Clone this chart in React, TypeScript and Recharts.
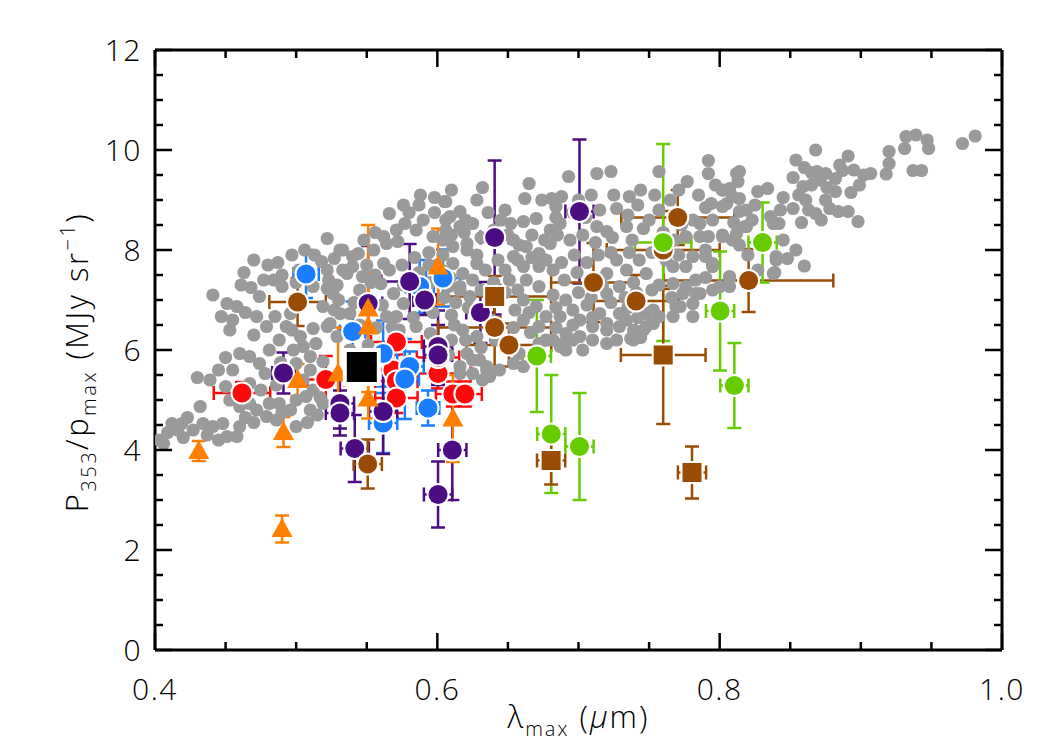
import React from "react";
import { ScatterChart, Scatter, XAxis, YAxis, ErrorBar, Label } from "recharts";

const FONT = "'Open Sans', 'Liberation Sans', 'DejaVu Sans', sans-serif";

// Axis ticks
const xTicks = [0.4, 0.45, 0.5, 0.55, 0.6, 0.65, 0.7, 0.75, 0.8, 0.85, 0.9, 0.95, 1.0];
const xMajorTicks = [0.4, 0.6, 0.8, 1.0];
const yTicks = [0, 0.5, 1, 1.5, 2, 2.5, 3, 3.5, 4, 4.5, 5, 5.5, 6, 6.5, 7, 7.5, 8, 8.5, 9, 9.5, 10, 10.5, 11, 11.5, 12];
const yMajorTicks = [0, 2, 4, 6, 8, 10, 12];

// Background sample: [lambda_max, P353/p_max]
const cloudPoints: [number, number][] = [
  [0.981, 10.28], [0.972, 10.13], [0.939, 10.3], [0.932, 10.27], [0.947, 10.2], [0.948, 10.03], [0.931, 10.03],
  [0.92, 9.97], [0.92, 9.73], [0.918, 9.52], [0.937, 9.59], [0.943, 9.59], [0.907, 9.53], [0.902, 9.5], [0.899, 9.3],
  [0.891, 9.88], [0.887, 9.59], [0.882, 9.43], [0.882, 9.17], [0.875, 9.53], [0.869, 9.57], [0.868, 10.0], [0.871, 9.4],
  [0.865, 9.3], [0.859, 9.27], [0.854, 9.8], [0.86, 9.65], [0.861, 9.0], [0.863, 8.8], [0.868, 8.73], [0.875, 9.0],
  [0.878, 8.83], [0.884, 8.77], [0.891, 8.77], [0.898, 8.57], [0.852, 8.83], [0.843, 8.8], [0.834, 9.23], [0.827, 9.17],
  [0.814, 9.57], [0.813, 9.37], [0.807, 9.23], [0.802, 9.2], [0.814, 9.03], [0.805, 8.93], [0.819, 8.8], [0.823, 8.6],
  [0.818, 8.47], [0.836, 8.67], [0.838, 8.53], [0.802, 8.27], [0.814, 8.1], [0.84, 7.87], [0.848, 7.83], [0.86, 7.68],
  [0.839, 7.55], [0.807, 7.43],
  [0.792, 9.79], [0.792, 9.53], [0.812, 9.53], [0.777, 9.37], [0.757, 9.57], [0.744, 9.2], [0.736, 9.07], [0.727, 8.83],
  [0.723, 9.57], [0.713, 9.53], [0.693, 9.47], [0.709, 9.1], [0.665, 9.33], [0.662, 9.03], [0.674, 9.0], [0.681, 9.03],
  [0.688, 9.07], [0.684, 8.87], [0.628, 9.0], [0.606, 8.97], [0.616, 8.77], [0.648, 8.8], [0.652, 8.53], [0.661, 8.57],
  [0.67, 8.63], [0.68, 8.4], [0.687, 8.53], [0.713, 8.47], [0.72, 8.37], [0.734, 8.47], [0.746, 8.43], [0.786, 8.53],
  [0.795, 8.6], [0.802, 8.87], [0.802, 9.2], [0.809, 9.07], [0.792, 8.27], [0.802, 8.3], [0.809, 8.2], [0.781, 7.87],
  [0.79, 7.87], [0.795, 7.67], [0.776, 7.67], [0.767, 7.67], [0.743, 7.8], [0.748, 7.53], [0.734, 7.6], [0.727, 7.8],
  [0.72, 7.53], [0.729, 7.27], [0.72, 7.13], [0.767, 7.33], [0.776, 7.27], [0.786, 7.13], [0.781, 6.93], [0.772, 6.87],
  [0.781, 6.67], [0.767, 6.67], [0.757, 6.67], [0.753, 6.8], [0.748, 6.47], [0.739, 6.4], [0.729, 6.47], [0.72, 6.53],
  [0.715, 6.73], [0.727, 6.2], [0.72, 6.13], [0.71, 6.2], [0.701, 6.27], [0.691, 6.33], [0.701, 6.6], [0.696, 6.8],
  [0.691, 7.0], [0.687, 6.67], [0.703, 6.0], [0.691, 6.0], [0.682, 6.2], [0.739, 6.2], [0.8, 7.27], [0.807, 7.27],
  [0.609, 8.67], [0.606, 8.4], [0.616, 8.47], [0.625, 8.53], [0.611, 8.07], [0.621, 8.13], [0.628, 7.9], [0.611, 7.73],
  [0.618, 7.53], [0.625, 7.4], [0.616, 7.2], [0.608, 7.27], [0.654, 8.2], [0.654, 7.87], [0.663, 8.07], [0.672, 7.93],
  [0.68, 8.13], [0.661, 7.67], [0.672, 7.67], [0.682, 7.6], [0.651, 7.4], [0.663, 7.4], [0.672, 7.27], [0.661, 7.0],
  [0.67, 6.87], [0.661, 6.6], [0.677, 6.67], [0.672, 6.47], [0.677, 6.2], [0.621, 5.93], [0.625, 5.8], [0.616, 5.67],
  [0.635, 5.6], [0.625, 5.53], [0.632, 5.4], [0.661, 5.67], [0.687, 6.07], [0.672, 6.13], [0.696, 6.2], [0.71, 6.47],
  [0.729, 6.73],
  [0.605, 8.97], [0.566, 8.73], [0.577, 8.53], [0.585, 8.4], [0.597, 8.27], [0.606, 8.6], [0.562, 8.27], [0.572, 8.17],
  [0.555, 8.0], [0.544, 7.93], [0.533, 8.0], [0.522, 8.23], [0.527, 7.83], [0.518, 7.77], [0.522, 7.6], [0.536, 7.53],
  [0.54, 7.67], [0.562, 7.73], [0.566, 7.6], [0.56, 7.33], [0.569, 7.13], [0.576, 6.93], [0.571, 6.67], [0.529, 7.3],
  [0.522, 7.23], [0.512, 7.27], [0.53, 7.0], [0.527, 6.8], [0.519, 6.87], [0.524, 6.53], [0.529, 6.27], [0.512, 6.43],
  [0.503, 6.27], [0.505, 6.07], [0.514, 6.13], [0.51, 5.87], [0.519, 5.77], [0.493, 6.47], [0.496, 6.73], [0.48, 7.7],
  [0.477, 7.4], [0.484, 7.4], [0.49, 7.5], [0.49, 7.27], [0.461, 7.3], [0.474, 7.07], [0.472, 6.67], [0.479, 6.47],
  [0.485, 6.67], [0.441, 7.1], [0.451, 6.93], [0.458, 6.87], [0.447, 6.67], [0.455, 6.6], [0.453, 6.4], [0.46, 5.93],
  [0.467, 5.87], [0.474, 5.73], [0.478, 5.53], [0.498, 6.0], [0.5, 5.73], [0.51, 5.6], [0.439, 5.4], [0.45, 5.27],
  [0.467, 5.33], [0.453, 5.0], [0.46, 4.87], [0.467, 4.93], [0.472, 4.8], [0.481, 4.93], [0.488, 4.93], [0.479, 4.67],
  [0.496, 4.8], [0.5, 5.0], [0.507, 5.07], [0.51, 4.8], [0.5, 4.47], [0.432, 4.87], [0.419, 4.53], [0.427, 4.4],
  [0.434, 4.53], [0.441, 4.47], [0.448, 4.53], [0.451, 4.27], [0.458, 4.27], [0.46, 4.47], [0.406, 4.13], [0.412, 4.53],
  [0.403, 4.2], [0.538, 6.0], [0.538, 6.73], [0.547, 7.47], [0.519, 4.93],
  [0.621, 8.0], [0.628, 7.73], [0.616, 7.27], [0.623, 7.07], [0.618, 6.4], [0.628, 6.27], [0.63, 5.8], [0.635, 5.67],
  [0.616, 5.53], [0.573, 6.4], [0.585, 6.47], [0.595, 6.33], [0.564, 8.13], [0.571, 8.4], [0.531, 8.0], [0.54, 7.87],
  [0.533, 7.6], [0.523, 7.4], [0.526, 7.13], [0.531, 6.73], [0.522, 6.47], [0.564, 6.67],
  [0.689, 6.13], [0.72, 6.4], [0.737, 6.23], [0.654, 5.73], [0.644, 5.6], [0.637, 5.47], [0.658, 5.93],
  [0.794, 8.93], [0.814, 8.77], [0.819, 8.47], [0.812, 8.33], [0.786, 8.27], [0.842, 8.53], [0.854, 8.0],
  [0.838, 7.53], [0.84, 7.8], [0.807, 7.47], [0.795, 7.73], [0.783, 7.4], [0.774, 7.13], [0.783, 7.13], [0.769, 6.87],
  [0.748, 6.73], [0.753, 6.53], [0.746, 6.4], [0.781, 8.6], [0.776, 8.27],
  // denser core of the band
  [0.65, 8.3], [0.658, 8.1], [0.667, 8.3], [0.676, 8.2], [0.685, 8.3], [0.694, 8.2], [0.703, 8.3], [0.712, 8.15],
  [0.724, 8.25], [0.738, 8.2], [0.648, 7.6], [0.657, 7.8], [0.667, 7.85], [0.677, 7.8], [0.688, 7.75], [0.697, 7.9],
  [0.706, 7.75], [0.714, 7.9], [0.723, 7.95], [0.736, 7.95], [0.69, 7.4], [0.699, 7.55], [0.708, 7.4], [0.717, 7.3],
  [0.739, 7.35], [0.648, 7.15], [0.657, 7.2], [0.682, 7.1], [0.7, 7.15], [0.709, 7.05], [0.733, 7.05], [0.741, 7.15],
  [0.655, 6.8], [0.665, 6.75], [0.684, 6.85], [0.706, 6.9], [0.723, 6.95], [0.735, 6.85], [0.742, 6.65], [0.654, 6.45],
  [0.666, 6.35], [0.684, 6.45], [0.696, 6.5], [0.71, 6.65], [0.734, 6.6], [0.744, 6.25], [0.684, 8.65], [0.696, 8.75],
  [0.705, 8.65], [0.715, 8.8], [0.735, 8.7], [0.742, 8.9], [0.725, 9.1], [0.7, 9.0],
  [0.604, 8.2], [0.61, 8.3], [0.619, 8.35], [0.631, 8.25], [0.64, 8.4], [0.645, 8.6], [0.636, 8.75], [0.62, 8.6],
  [0.604, 7.9], [0.634, 7.6], [0.643, 7.8], [0.603, 7.6], [0.609, 7.45], [0.631, 7.2], [0.64, 7.35], [0.605, 7.05],
  [0.613, 6.95], [0.622, 6.85], [0.638, 6.6], [0.61, 6.7], [0.612, 6.5], [0.62, 6.2], [0.631, 6.05], [0.641, 6.2],
  [0.61, 6.2], [0.608, 5.9],
  [0.548, 8.2], [0.556, 8.35], [0.58, 8.75], [0.59, 8.6], [0.598, 8.75], [0.587, 8.9], [0.576, 8.9], [0.55, 7.7],
  [0.556, 7.5], [0.575, 7.7], [0.584, 7.85], [0.594, 7.95], [0.6, 7.7], [0.587, 7.55], [0.594, 7.7], [0.545, 7.2],
  [0.553, 7.35], [0.576, 7.3], [0.595, 7.35], [0.541, 6.95], [0.561, 6.9], [0.568, 6.45], [0.583, 6.65], [0.597, 6.75],
  [0.545, 6.5], [0.557, 6.45], [0.551, 6.1], [0.588, 9.1], [0.61, 9.2], [0.598, 9.05], [0.632, 9.25],
  [0.75, 8.6], [0.757, 8.8], [0.765, 9.0], [0.754, 9.1], [0.771, 9.2], [0.785, 9.1], [0.79, 8.85], [0.797, 9.3],
  [0.76, 8.35], [0.768, 8.2], [0.773, 8.5], [0.79, 8.0], [0.81, 8.55], [0.825, 8.9], [0.83, 8.2], [0.845, 8.2],
  [0.82, 7.9], [0.827, 7.6], [0.752, 7.95], [0.762, 7.8], [0.771, 7.9], [0.757, 7.3], [0.766, 7.05], [0.79, 7.45],
  [0.795, 7.2], [0.752, 7.2], [0.845, 9.05], [0.856, 9.1], [0.852, 9.45], [0.865, 9.55], [0.876, 9.25], [0.858, 8.55],
  [0.872, 8.6], [0.893, 9.15], [0.885, 9.7], [0.895, 9.6],
  [0.463, 7.55], [0.47, 7.8], [0.487, 7.75], [0.497, 7.9], [0.506, 8.0], [0.513, 7.9], [0.502, 7.6], [0.468, 7.25],
  [0.5, 7.35], [0.464, 6.75], [0.47, 6.3], [0.488, 6.2], [0.497, 6.4], [0.481, 6.0], [0.489, 5.75], [0.486, 5.3],
  [0.495, 5.5], [0.505, 5.4], [0.512, 5.2], [0.517, 5.05], [0.475, 5.2], [0.462, 5.1], [0.455, 5.6], [0.445, 5.6],
  [0.43, 5.45], [0.45, 5.85],
  [0.416, 4.4], [0.423, 4.65], [0.437, 4.3], [0.445, 4.2], [0.464, 4.65], [0.47, 4.55], [0.486, 4.6], [0.49, 4.75],
  [0.508, 4.55], [0.515, 4.7], [0.42, 4.25], [0.409, 4.35],
];

// Measured regions: [lambda_max, P353/p_max, error in lambda, error in ratio]
const redPoints: [number, number, number, number][] = [
  [0.4616, 5.14, 0.02, 0.22], [0.521, 5.41, 0.013, 0.47], [0.571, 6.16, 0.018, 0.25], [0.5685, 5.6, 0.015, 0.3],
  [0.571, 5.38, 0.015, 0.3], [0.571, 5.04, 0.015, 0.3], [0.6005, 5.53, 0.023, 0.3], [0.6005, 5.85, 0.015, 0.3],
  [0.611, 5.12, 0.012, 0.25], [0.6195, 5.12, 0.012, 0.25],
];
const bluePoints: [number, number, number, number][] = [
  [0.507, 7.52, 0.009, 0.48], [0.54, 6.37, 0.009, 0.6], [0.5616, 5.93, 0.01, 0.66], [0.5804, 5.67, 0.01, 0.3],
  [0.577, 5.42, 0.01, 0.8], [0.5934, 4.84, 0.008, 0.35], [0.5616, 4.54, 0.01, 0.6], [0.604, 7.44, 0.012, 0.57],
  [0.5875, 7.27, 0.01, 0.53],
];
const purplePoints: [number, number, number, number][] = [
  [0.491, 5.54, 0.008, 0.41], [0.531, 4.93, 0.01, 0.5], [0.531, 4.74, 0.01, 0.45], [0.5415, 4.03, 0.01, 0.67],
  [0.551, 6.93, 0.01, 1.15], [0.5616, 4.77, 0.01, 0.85], [0.5804, 7.37, 0.02, 0.75], [0.591, 7.0, 0.008, 0.3],
  [0.6005, 6.07, 0.01, 0.72], [0.6005, 5.9, 0.01, 0.6], [0.6005, 3.11, 0.01, 0.66], [0.6106, 4.0, 0.01, 1.0],
  [0.6305, 6.75, 0.01, 0.61], [0.6406, 8.25, 0.01, 1.54], [0.7007, 8.77, 0.01, 1.44],
];
const brownCircles: [number, number, number, number][] = [
  [0.501, 6.96, 0.02, 0.48], [0.5507, 3.72, 0.01, 0.49], [0.6406, 6.45, 0.04, 0.85], [0.6507, 6.1, 0.03, 0.43],
  [0.7106, 7.35, 0.03, 0.79], [0.7408, 6.98, 0.03, 0.52], [0.76, 8.0, 0.04, 0.78], [0.7703, 8.65, 0.04, 0.55],
  [0.8205, 7.39, 0.06, 0.63],
];
const brownSquares: [number, number, number, number][] = [
  [0.6406, 7.07, 0.04, 0.41], [0.6806, 3.79, 0.01, 0.48], [0.76, 5.9, 0.03, 1.38], [0.7804, 3.55, 0.01, 0.52],
];
const greenPoints: [number, number, number, number][] = [
  [0.6705, 5.88, 0.01, 1.12], [0.6807, 4.32, 0.01, 1.18], [0.7007, 4.07, 0.01, 1.07], [0.76, 8.15, 0.02, 1.97],
  [0.8003, 6.78, 0.01, 1.19], [0.8104, 5.29, 0.01, 0.85], [0.8304, 8.15, 0.01, 0.8],
];
// [lambda_max, P353/p_max, error in ratio]
const orangePoints: [number, number, number][] = [
  [0.431, 3.98, 0.2], [0.49, 2.42, 0.27], [0.491, 4.36, 0.3], [0.501, 5.4, 0.32], [0.5297, 5.53, 0.92],
  [0.551, 6.83, 1.67], [0.551, 6.47, 0.93], [0.551, 5.03, 0.4], [0.6005, 7.67, 0.76], [0.611, 4.63, 0.87],
];
const meanPoint: [number, number][] = [[0.5465, 5.66]];

const COLORS = {
  gray: "#9a9a9a",
  red: "#ff0a0a",
  blue: "#1a7dff",
  purple: "#4c0c82",
  brown: "#9a4c05",
  green: "#66cc00",
  orange: "#ff8000",
};

const toRows = (arr: [number, number, number, number][]) => arr.map(([x, y, ex, ey]) => ({ x, y, ex, ey }));
const cloudData = cloudPoints.map(([x, y]) => ({ x, y }));
const orangeData = orangePoints.map(([x, y, ey]) => ({ x, y, ey }));
const meanData = meanPoint.map(([x, y]) => ({ x, y }));

const isMajor = (v: number, majors: number[]) => majors.some((m) => Math.abs(m - v) < 1e-6);

const TICK_W = 2.5;
const MAJOR_LEN = 17;
const MINOR_LEN = 8;
const LABEL_SIZE = 30;

const BottomTick = (p: any) => {
  const v = p.payload.value;
  const major = isMajor(v, xMajorTicks);
  return (
    <g>
      <line x1={p.x} x2={p.x} y1={p.y} y2={p.y - (major ? MAJOR_LEN : MINOR_LEN)} stroke="#000" strokeWidth={TICK_W} />
      {major && (
        <text x={p.x} y={p.y + 50} textAnchor="middle" fontSize={LABEL_SIZE} fontWeight={300} fontFamily={FONT} fill="#000" letterSpacing={1.5}>
          {v.toFixed(1)}
        </text>
      )}
    </g>
  );
};

const TopTick = (p: any) => {
  const major = isMajor(p.payload.value, xMajorTicks);
  return <line x1={p.x} x2={p.x} y1={p.y} y2={p.y + (major ? MAJOR_LEN : MINOR_LEN)} stroke="#000" strokeWidth={TICK_W} />;
};

const LeftTick = (p: any) => {
  const v = p.payload.value;
  const major = isMajor(v, yMajorTicks);
  return (
    <g>
      <line x1={p.x} x2={p.x + (major ? MAJOR_LEN : MINOR_LEN)} y1={p.y} y2={p.y} stroke="#000" strokeWidth={TICK_W} />
      {major && (
        <text x={p.x - 13} y={p.y + 11} textAnchor="end" fontSize={LABEL_SIZE} fontWeight={300} fontFamily={FONT} fill="#000" letterSpacing={1.5}>
          {String(v)}
        </text>
      )}
    </g>
  );
};

const RightTick = (p: any) => {
  const major = isMajor(p.payload.value, yMajorTicks);
  return <line x1={p.x} x2={p.x - (major ? MAJOR_LEN : MINOR_LEN)} y1={p.y} y2={p.y} stroke="#000" strokeWidth={TICK_W} />;
};

const XTitle = (props: any) => {
  const vb = props.viewBox || { x: 147, y: 642, width: 847 };
  return (
    <text x={vb.x + vb.width / 2} y={vb.y + 78} textAnchor="middle" fontSize={31} fontWeight={300} fontFamily={FONT} fill="#000" letterSpacing={2}>
      λ<tspan fontSize={20} dy={8}>max</tspan>
      <tspan dy={-8}>{"  ("}</tspan>
      <tspan fontStyle="italic">μ</tspan>
      <tspan>m)</tspan>
    </text>
  );
};

const YTitle = (props: any) => {
  const vb = props.viewBox || { y: 42, height: 600 };
  const cy = vb.y + vb.height / 2 + 12;
  return (
    <text transform={`translate(80,${cy}) rotate(-90)`} textAnchor="middle" fontSize={31} fontWeight={300} fontFamily={FONT} fill="#000" letterSpacing={2.5}>
      P<tspan fontSize={20} dy={8}>353</tspan>
      <tspan dy={-8}>/p</tspan>
      <tspan fontSize={20} dy={8}>max</tspan>
      <tspan dy={-8}>{"  (MJy sr"}</tspan>
      <tspan fontSize={20} dy={-13}>−1</tspan>
      <tspan dy={13}>)</tspan>
    </text>
  );
};

const grayDot = (p: any) => <circle cx={p.cx} cy={p.cy} r={6.6} fill={COLORS.gray} />;
const nothing = () => <g />;

const haloCircle = (fill: string) => (p: any) => (
  <g>
    <circle cx={p.cx} cy={p.cy} r={11.5} fill="#fff" />
    <circle cx={p.cx} cy={p.cy} r={9.5} fill={fill} />
  </g>
);

const haloSquare = (fill: string) => (p: any) => (
  <g>
    <rect x={p.cx - 11.5} y={p.cy - 11.5} width={23} height={23} fill="#fff" />
    <rect x={p.cx - 9.5} y={p.cy - 9.5} width={19} height={19} fill={fill} />
  </g>
);

const triangle = (fill: string) => (p: any) => (
  <polygon points={`${p.cx},${p.cy - 11} ${p.cx - 10.5},${p.cy + 8} ${p.cx + 10.5},${p.cy + 8}`} fill={fill} />
);

const meanSquare = (p: any) => (
  <g>
    <rect x={p.cx - 19} y={p.cy - 19} width={38} height={38} fill="#fff" />
    <rect x={p.cx - 15} y={p.cy - 15} width={30} height={30} fill="#000" />
  </g>
);

const bars = (color: string, withX = true) => {
  const out = [<ErrorBar key="ey" dataKey="ey" direction="y" width={7} stroke={color} strokeWidth={2.5} />];
  if (withX) out.push(<ErrorBar key="ex" dataKey="ex" direction="x" width={7} stroke={color} strokeWidth={2.5} />);
  return out;
};

export default function App() {
  return (
    <div style={{ width: 1042, height: 742 }}>
      <ScatterChart width={1042} height={742} margin={{ top: 41, right: 47, bottom: 60, left: 87 }}>
        <XAxis
          type="number"
          dataKey="x"
          domain={[0.4, 1.0]}
          ticks={xTicks}
          interval={0}
          allowDataOverflow
          height={40}
          tickSize={0}
          tickMargin={0}
          tickLine={false}
          axisLine={{ stroke: "#000", strokeWidth: 3 }}
          tick={(p: any) => <BottomTick {...p} />}
        >
          <Label content={XTitle} />
        </XAxis>
        <XAxis
          xAxisId="top"
          orientation="top"
          type="number"
          dataKey="x"
          domain={[0.4, 1.0]}
          ticks={xTicks}
          interval={0}
          allowDataOverflow
          height={1}
          tickSize={0}
          tickMargin={0}
          tickLine={false}
          axisLine={{ stroke: "#000", strokeWidth: 3 }}
          tick={(p: any) => <TopTick {...p} />}
        />
        <YAxis
          type="number"
          dataKey="y"
          domain={[0, 12]}
          ticks={yTicks}
          interval={0}
          allowDataOverflow
          width={60}
          tickSize={0}
          tickMargin={0}
          tickLine={false}
          axisLine={{ stroke: "#000", strokeWidth: 3 }}
          tick={(p: any) => <LeftTick {...p} />}
        >
          <Label content={YTitle} />
        </YAxis>
        <YAxis
          yAxisId="right"
          orientation="right"
          type="number"
          dataKey="y"
          domain={[0, 12]}
          ticks={yTicks}
          interval={0}
          allowDataOverflow
          width={1}
          tickSize={0}
          tickMargin={0}
          tickLine={false}
          axisLine={{ stroke: "#000", strokeWidth: 3 }}
          tick={(p: any) => <RightTick {...p} />}
        />

        {/* carries the top and right frame axes */}
        <Scatter xAxisId="top" yAxisId="right" data={meanData} shape={nothing} isAnimationActive={false} />

        <Scatter data={cloudData} shape={grayDot} isAnimationActive={false} />
        <Scatter data={toRows(redPoints)} shape={haloCircle(COLORS.red)} isAnimationActive={false}>
          {bars(COLORS.red)}
        </Scatter>
        <Scatter data={toRows(bluePoints)} shape={haloCircle(COLORS.blue)} isAnimationActive={false}>
          {bars(COLORS.blue)}
        </Scatter>
        <Scatter data={toRows(purplePoints)} shape={haloCircle(COLORS.purple)} isAnimationActive={false}>
          {bars(COLORS.purple)}
        </Scatter>
        <Scatter data={toRows(brownCircles)} shape={haloCircle(COLORS.brown)} isAnimationActive={false}>
          {bars(COLORS.brown)}
        </Scatter>
        <Scatter data={toRows(greenPoints)} shape={haloCircle(COLORS.green)} isAnimationActive={false}>
          {bars(COLORS.green)}
        </Scatter>
        <Scatter data={toRows(brownSquares)} shape={haloSquare(COLORS.brown)} isAnimationActive={false}>
          {bars(COLORS.brown)}
        </Scatter>
        <Scatter data={orangeData} shape={triangle(COLORS.orange)} isAnimationActive={false}>
          {bars(COLORS.orange, false)}
        </Scatter>
        <Scatter data={meanData} shape={meanSquare} isAnimationActive={false} />
      </ScatterChart>
    </div>
  );
}
